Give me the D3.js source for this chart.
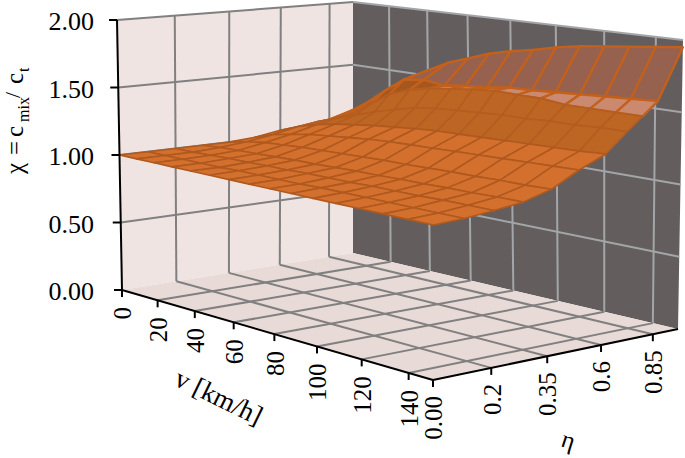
<!DOCTYPE html>
<html>
<head>
<meta charset="utf-8">
<script src="https://cdn.jsdelivr.net/npm/d3@7"></script>
<style>
  html, body { margin: 0; padding: 0; background: #fff; }
  text { font-family: "Liberation Serif", serif; fill: #000; }
</style>
</head>
<body>
<div id="chart"></div>
<script>
var svgWidth = 685;
var svgHeight = 458;

// Data
var vValues = [0, 10, 20, 30, 40, 50, 60, 70, 80, 90, 100, 110, 120, 130, 140, 150];
var etaValues = [0, 0.1, 0.2, 0.275, 0.35, 0.475, 0.6, 0.7, 0.775, 0.85, 1];

var chiEta0 = [1, 1, 1, 1, 1, 1, 1, 1, 1, 1, 1, 1, 1, 1, 1, 1];
var chiEta1 = [1, 1, 1, 1, 1, 1.005, 1.005, 1.005, 1.005, 1.01, 1.01, 1.01, 1.01, 1.01, 1.01, 1.01];
var chiEta2 = [1, 1, 1.005, 1.01, 1.01, 1.015, 1.015, 1.02, 1.02, 1.02, 1.025, 1.025, 1.025, 1.03, 1.03, 1.03];
var chiEta3 = [1, 1.01, 1.015, 1.02, 1.025, 1.03, 1.03, 1.035, 1.04, 1.04, 1.045, 1.045, 1.05, 1.05, 1.055, 1.055];
var chiEta4 = [1, 1.03, 1.05, 1.06, 1.07, 1.075, 1.08, 1.085, 1.09, 1.09, 1.095, 1.1, 1.1, 1.105, 1.105, 1.11];
var chiEta5 = [1.015, 1.06, 1.09, 1.115, 1.13, 1.145, 1.16, 1.17, 1.175, 1.18, 1.185, 1.19, 1.195, 1.2, 1.205, 1.21];
var chiEta6 = [1.045, 1.1, 1.14, 1.17, 1.19, 1.21, 1.225, 1.24, 1.25, 1.255, 1.26, 1.265, 1.27, 1.275, 1.28, 1.29];
var chiEta7 = [1.055, 1.12, 1.17, 1.22, 1.27, 1.31, 1.35, 1.37, 1.38, 1.39, 1.4, 1.4, 1.41, 1.41, 1.42, 1.42];
var chiEta8 = [1.065, 1.13, 1.19, 1.29, 1.39, 1.445, 1.48, 1.5, 1.52, 1.535, 1.53, 1.53, 1.51, 1.51, 1.51, 1.51];
var chiEta9 = [1.085, 1.16, 1.26, 1.38, 1.49, 1.51, 1.49, 1.51, 1.52, 1.545, 1.55, 1.56, 1.57, 1.58, 1.59, 1.6];
var chiEta10 = [1.14, 1.22, 1.33, 1.46, 1.54, 1.62, 1.675, 1.73, 1.77, 1.8, 1.84, 1.87, 1.89, 1.91, 1.93, 1.95];
var chiRows = [chiEta0, chiEta1, chiEta2, chiEta3, chiEta4, chiEta5, chiEta6, chiEta7, chiEta8, chiEta9, chiEta10];

var vTicks = [0, 20, 40, 60, 80, 100, 120, 140];
var etaTicks = [0, 0.2, 0.35, 0.6, 0.85];
var etaTickLabels = ["0.00", "0.2", "0.35", "0.6", "0.85"];
var chiTicks = [0, 0.5, 1, 1.5, 2];

// Scales into the unit cube, eta is a category axis so steps are even per tick
var vScale = d3.scaleLinear().domain([0, 150]).range([0, 1]);
var etaScale = d3.scaleLinear()
  .domain([0, 0.2, 0.35, 0.6, 0.85, 1])
  .range([0, 1 / 4.5, 2 / 4.5, 3 / 4.5, 4 / 4.5, 1]);
var chiScale = d3.scaleLinear().domain([0, 2]).range([0, 1]);

// Unit square to quad, corners in order (0,0) (1,0) (1,1) (0,1)
function quadMap(p) {
  var sx = p[0][0] - p[1][0] + p[2][0] - p[3][0];
  var sy = p[0][1] - p[1][1] + p[2][1] - p[3][1];
  var dx1 = p[1][0] - p[2][0], dx2 = p[3][0] - p[2][0];
  var dy1 = p[1][1] - p[2][1], dy2 = p[3][1] - p[2][1];
  var den = dx1 * dy2 - dx2 * dy1;
  var g = (sx * dy2 - dx2 * sy) / den;
  var h = (dx1 * sy - sx * dy1) / den;
  var a = p[1][0] - p[0][0] + g * p[1][0], b = p[3][0] - p[0][0] + h * p[3][0];
  var d = p[1][1] - p[0][1] + g * p[1][1], e = p[3][1] - p[0][1] + h * p[3][1];
  return function(u, w) {
    var q = g * u + h * w + 1;
    return [(a * u + b * w + p[0][0]) / q, (d * u + e * w + p[0][1]) / q];
  };
}

var floorMap = quadMap([[122, 290], [433, 380], [678, 329], [353, 253]]);
var topMap = quadMap([[117, 20], [434, 70], [683, 40], [353, 2]]);

// v, eta, chi to a screen point
function project(v, eta, chi) {
  var u = vScale(v), w = etaScale(eta), t = chiScale(chi);
  var f = floorMap(u, w), c = topMap(u, w);
  return [f[0] + (c[0] - f[0]) * t, f[1] + (c[1] - f[1]) * t];
}

var svg = d3.select("#chart")
  .append("svg")
  .attr("width", svgWidth)
  .attr("height", svgHeight);

var line = d3.line();
var poly = function(pts) { return line(pts) + "Z"; };

// Walls and floor
svg.append("path").attr("d", poly([project(0, 0, 0), project(0, 1, 0), project(0, 1, 2), project(0, 0, 2)])).attr("fill", "#efe4e1");
svg.append("path").attr("d", poly([project(0, 1, 0), project(150, 1, 0), project(150, 1, 2), project(0, 1, 2)])).attr("fill", "#635e5d");
svg.append("path").attr("d", poly([project(0, 0, 0), project(150, 0, 0), project(150, 1, 0), project(0, 1, 0)])).attr("fill", "#e8dad6");

function gridLine(a, b, color) {
  svg.append("line")
    .attr("x1", a[0]).attr("y1", a[1])
    .attr("x2", b[0]).attr("y2", b[1])
    .attr("stroke", color)
    .attr("stroke-width", 2);
}

var pinkGrid = "#808080";
var greyGrid = "#a3a5a8";

// Left wall grid
etaTicks.slice(1).forEach(function(e) {
  gridLine(project(0, e, 0), project(0, e, 2), pinkGrid);
});
chiTicks.slice(1).forEach(function(c) {
  gridLine(project(0, 0, c), project(0, 1, c), pinkGrid);
});

// Back wall grid
vTicks.slice(1).forEach(function(v) {
  gridLine(project(v, 1, 0), project(v, 1, 2), greyGrid);
});
chiTicks.slice(1).forEach(function(c) {
  gridLine(project(0, 1, c), project(150, 1, c), greyGrid);
});

// Floor grid
vTicks.slice(1).forEach(function(v) {
  gridLine(project(v, 0, 0), project(v, 1, 0), pinkGrid);
});
etaTicks.slice(1).forEach(function(e) {
  gridLine(project(0, e, 0), project(150, e, 0), pinkGrid);
});

// Surface cells, far rows first so the hump covers what is behind it
var cells = [];
for (var r = etaValues.length - 2; r >= 0; r--) {
  for (var c = 0; c < vValues.length - 1; c++) {
    cells.push({ r: r, c: c });
  }
}

function cellFill(d) {
  if (d.r === 9) return "#96614f";
  if (d.r === 8) return d.c < 6 ? "#a5571e" : "#cb8a70";
  if (d.r >= 6) return "#bd6523";
  return "#d4702d";
}

function cellStroke(d) {
  if (d.r >= 8) return "#c2601c";
  if (d.r >= 6) return "#b45d20";
  return "#b0591f";
}

svg.append("g").selectAll("path")
  .data(cells)
  .enter()
  .append("path")
  .attr("d", function(d) {
    return poly([
      project(vValues[d.c], etaValues[d.r], chiRows[d.r][d.c]),
      project(vValues[d.c + 1], etaValues[d.r], chiRows[d.r][d.c + 1]),
      project(vValues[d.c + 1], etaValues[d.r + 1], chiRows[d.r + 1][d.c + 1]),
      project(vValues[d.c], etaValues[d.r + 1], chiRows[d.r + 1][d.c])
    ]);
  })
  .attr("fill", cellFill)
  .attr("stroke", cellStroke)
  .attr("stroke-width", function(d) { return d.r >= 8 ? 2.4 : 1.6; })
  .attr("stroke-linejoin", "round");

// Axes
function axisLine(a, b) {
  svg.append("line")
    .attr("x1", a[0]).attr("y1", a[1])
    .attr("x2", b[0]).attr("y2", b[1])
    .attr("stroke", "#000")
    .attr("stroke-width", 2);
}

axisLine(project(0, 0, 0), project(0, 0, 2));
axisLine(project(0, 0, 0), project(150, 0, 0));
axisLine(project(150, 0, 0), project(150, 1, 0));

chiTicks.forEach(function(c) {
  var p = project(0, 0, c);
  axisLine([p[0] - 8, p[1]], p);
  svg.append("text")
    .attr("x", 94)
    .attr("y", p[1] + 10)
    .attr("text-anchor", "end")
    .attr("font-size", 26)
    .text(d3.format(".2f")(c));
});

vTicks.forEach(function(v) {
  var p = project(v, 0, 0);
  axisLine(p, [p[0], p[1] + 7]);
  svg.append("text")
    .attr("transform", "translate(" + (p[0] + 1) + "," + (p[1] + 17) + ") rotate(-90)")
    .attr("text-anchor", "end")
    .attr("dy", "0.33em")
    .attr("font-size", 25)
    .text(v);
});

etaTicks.forEach(function(e, i) {
  var p = project(150, e, 0);
  axisLine(p, [p[0], p[1] + 7]);
  svg.append("text")
    .attr("transform", "translate(" + (p[0] + 1) + "," + (p[1] + 16) + ") rotate(-90)")
    .attr("text-anchor", "end")
    .attr("dy", "0.33em")
    .attr("font-size", 25)
    .text(etaTickLabels[i]);
});

// Axis titles
var yTitle = svg.append("text")
  .attr("transform", "translate(23,174) rotate(-90)")
  .attr("font-size", 25);
yTitle.append("tspan").attr("x", 0).attr("y", 0).text("\u03c7");
yTitle.append("tspan").attr("x", 19).attr("y", 0).text("=");
yTitle.append("tspan").attr("x", 37).attr("y", 0).text("c");
yTitle.append("tspan").attr("x", 52).attr("y", 6).attr("font-size", 16).text("mix");
yTitle.append("tspan").attr("x", 76).attr("y", -3).attr("font-size", 22).text("/");
yTitle.append("tspan").attr("x", 90).attr("y", 0).text("c");
yTitle.append("tspan").attr("x", 102).attr("y", 6).attr("font-size", 16).text("t");

svg.append("text")
  .attr("transform", "translate(215,405) rotate(26)")
  .attr("text-anchor", "middle")
  .attr("font-size", 27)
  .text("v [km/h]");

svg.append("text")
  .attr("transform", "translate(566,448) rotate(18)")
  .attr("text-anchor", "middle")
  .attr("font-size", 25)
  .text("\u03b7");
</script>
</body>
</html>
